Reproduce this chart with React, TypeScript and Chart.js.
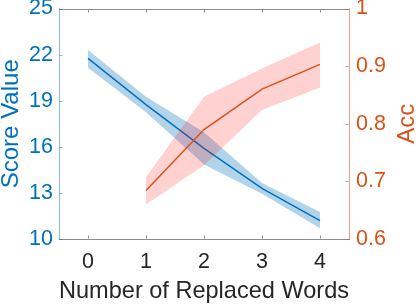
import { useEffect, useRef } from 'react';
import { Chart, registerables } from 'chart.js';

Chart.register(...registerables);

const xTickValues = [0, 1, 2, 3, 4];
const scoreX = [0, 1, 2, 3, 4];
const scoreMean = [21.75, 18.75, 15.9, 13.3, 11.2];
const scoreUpper = [22.3, 19.25, 16.95, 13.65, 11.75];
const scoreLower = [21.15, 18.25, 14.85, 12.95, 10.7];
const accX = [1, 2, 3, 4];
const accMean = [0.684, 0.79, 0.86, 0.903];
const accUpper = [0.707, 0.847, 0.896, 0.941];
const accLower = [0.66, 0.728, 0.824, 0.863];

const BLUE = '#0072BD';
const ORANGE = '#D95319';
const FONT = '"Liberation Sans", Arial, Helvetica, sans-serif';

const pts = (xs: number[], ys: number[]) => xs.map((x, i) => ({ x, y: ys[i] }));

const framePlugin = {
  id: 'frame',
  afterDraw(chart: any) {
    const { ctx, chartArea: a, scales } = chart;
    const top = Math.round(a.top) + 0.5;
    const bottom = Math.round(a.bottom) - 0.5;
    const left = Math.round(a.left) + 0.5;
    const right = Math.round(a.right) - 0.5;
    ctx.save();
    ctx.lineWidth = 1;
    ctx.strokeStyle = '#8c8c8c';
    ctx.beginPath();
    ctx.moveTo(a.left, top);
    ctx.lineTo(a.right, top);
    ctx.stroke();
    const tl = 3;
    ctx.beginPath();
    for (const t of scales.x.ticks) {
      const px = Math.round(scales.x.getPixelForValue(t.value)) + 0.5;
      ctx.moveTo(px, bottom);
      ctx.lineTo(px, bottom - tl);
      ctx.moveTo(px, top);
      ctx.lineTo(px, top + tl);
    }
    ctx.stroke();
    ctx.strokeStyle = 'rgba(0,114,189,0.45)';
    ctx.beginPath();
    for (const t of scales.y.ticks) {
      const py = Math.round(scales.y.getPixelForValue(t.value)) + 0.5;
      ctx.moveTo(left, py);
      ctx.lineTo(left + tl, py);
    }
    ctx.stroke();
    ctx.strokeStyle = 'rgba(217,83,25,0.55)';
    ctx.beginPath();
    for (const t of scales.y1.ticks) {
      const py = Math.round(scales.y1.getPixelForValue(t.value)) + 0.5;
      ctx.moveTo(right, py);
      ctx.lineTo(right - tl, py);
    }
    ctx.stroke();
    ctx.translate(414, (a.top + a.bottom) / 2);
    ctx.rotate(-Math.PI / 2);
    ctx.fillStyle = ORANGE;
    ctx.font = `24px ${FONT}`;
    ctx.textAlign = 'center';
    ctx.textBaseline = 'alphabetic';
    ctx.fillText('Acc', 0, 0);
    ctx.restore();
  },
};

export default function App() {
  const ref = useRef<HTMLCanvasElement>(null);
  useEffect(() => {
    if (!ref.current) return;
    const chart = new Chart(ref.current, {
      type: 'line',
      data: {
        datasets: [
          {
            data: pts(accX, accMean),
            yAxisID: 'y1',
            borderColor: ORANGE,
            borderWidth: 1.5,
            pointRadius: 0,
            fill: false,
            tension: 0,
          },
          {
            data: pts(accX, accUpper),
            yAxisID: 'y1',
            borderWidth: 0,
            borderColor: 'rgba(0,0,0,0)',
            backgroundColor: 'rgba(255,0,0,0.18)',
            pointRadius: 0,
            fill: '+1',
            tension: 0,
          },
          {
            data: pts(accX, accLower),
            yAxisID: 'y1',
            borderWidth: 0,
            borderColor: 'rgba(0,0,0,0)',
            pointRadius: 0,
            fill: false,
            tension: 0,
          },
          {
            data: pts(scoreX, scoreMean),
            yAxisID: 'y',
            borderColor: BLUE,
            borderWidth: 1.5,
            pointRadius: 0,
            fill: false,
            tension: 0,
          },
          {
            data: pts(scoreX, scoreUpper),
            yAxisID: 'y',
            borderWidth: 0,
            borderColor: 'rgba(0,0,0,0)',
            backgroundColor: 'rgba(0,114,189,0.3)',
            pointRadius: 0,
            fill: '+1',
            tension: 0,
          },
          {
            data: pts(scoreX, scoreLower),
            yAxisID: 'y',
            borderWidth: 0,
            borderColor: 'rgba(0,0,0,0)',
            pointRadius: 0,
            fill: false,
            tension: 0,
          },
        ],
      },
      options: {
        responsive: false,
        animation: false,
        layout: { padding: { top: 8.5, left: 0, right: 0, bottom: 0 } },
        plugins: { legend: { display: false }, tooltip: { enabled: false } },
        scales: {
          x: {
            type: 'linear',
            min: -0.5,
            max: 4.5,
            afterBuildTicks: (s: any) => {
              s.ticks = xTickValues.map((v) => ({ value: v }));
            },
            afterFit: (s: any) => {
              s.height = 67;
              s.paddingLeft = 0;
              s.paddingRight = 0;
            },
            grid: { display: false, drawTicks: false },
            border: { display: true, color: '#8c8c8c', width: 1 },
            ticks: { color: '#262626', font: { family: FONT, size: 21.5 }, padding: 10, maxRotation: 0 },
            title: {
              display: true,
              text: 'Number of Replaced Words',
              color: '#262626',
              font: { family: FONT, size: 24 },
              padding: { top: 0, bottom: 0 },
            },
          },
          y: {
            type: 'linear',
            position: 'left',
            min: 10,
            max: 25,
            afterFit: (s: any) => {
              s.width = 59;
              s.paddingTop = 0;
              s.paddingBottom = 0;
            },
            grid: { display: false, drawTicks: false },
            border: { display: true, color: 'rgba(0,114,189,0.45)', width: 1 },
            ticks: { stepSize: 3, color: BLUE, font: { family: FONT, size: 21.5 }, padding: 6 },
            title: {
              display: true,
              text: 'Score Value',
              color: BLUE,
              font: { family: FONT, size: 24 },
              padding: { top: -3, bottom: 0 },
            },
          },
          y1: {
            type: 'linear',
            position: 'right',
            min: 0.6,
            max: 1,
            afterFit: (s: any) => {
              s.width = 67;
              s.paddingTop = 0;
              s.paddingBottom = 0;
            },
            grid: { display: false, drawTicks: false },
            border: { display: true, color: 'rgba(217,83,25,0.55)', width: 1 },
            ticks: {
              stepSize: 0.1,
              color: ORANGE,
              font: { family: FONT, size: 21.5 },
              padding: 7,
              callback: (v: any) => String(Math.round(Number(v) * 10) / 10),
            },
          },
        },
      },
      plugins: [framePlugin],
    } as any);
    return () => chart.destroy();
  }, []);
  return (
    <div style={{ position: 'fixed', left: 0, top: 0, width: 416, height: 306, background: '#fff' }}>
      <canvas ref={ref} width={416} height={306} style={{ width: 416, height: 306 }} />
    </div>
  );
}
